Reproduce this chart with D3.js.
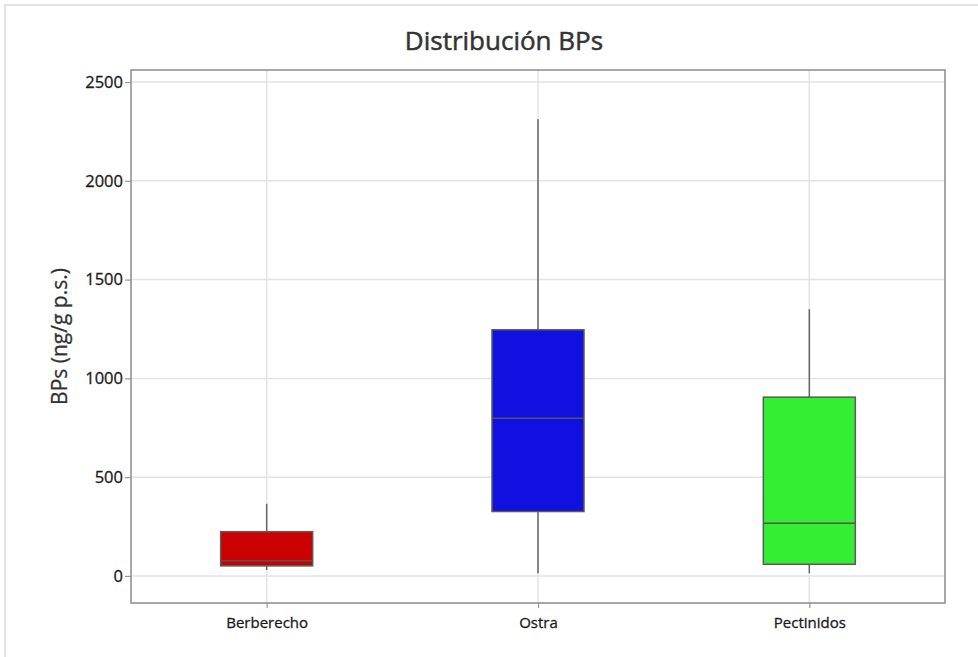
<!DOCTYPE html>
<html>
<head>
<meta charset="utf-8">
<script src="https://cdn.jsdelivr.net/npm/d3@7"></script>
<style>
  html, body { margin: 0; padding: 0; background: #fff; }
  svg { display: block; font-family: "Open Sans", "Noto Sans", sans-serif; }
</style>
</head>
<body>
<svg id="chart" width="978" height="657"></svg>
<script>
// Box-plot summaries of BPs concentration per shellfish group
const categories = ["Berberecho", "Ostra", "Pectinidos"];
const whiskerLow = [30, 14, 14];
const q1 = [51, 326, 59];
const median = [77, 798, 267];
const q3 = [224, 1246, 905];
const whiskerHigh = [365, 2312, 1350];
const fills = ["#CC0000", "#1010E0", "#33EE33"];
const yTicks = [0, 500, 1000, 1500, 2000, 2500];

const svg = d3.select("#chart");
const W = 978, H = 657;
const m = { left: 131, right: 33, top: 70, bottom: 54 };
const pw = W - m.left - m.right, ph = H - m.top - m.bottom;
const FONT = '"Open Sans", "Noto Sans", sans-serif';

// outer frame
svg.append("rect").attr("x", 5).attr("y", 5).attr("width", W + 10).attr("height", H + 10)
  .attr("fill", "none").attr("stroke", "#d9d9d9").attr("stroke-width", 1.5);

const x = d3.scalePoint().domain(categories).range([0, pw]).padding(0.5);
const y = d3.scaleLinear().domain([-137, 2561]).range([ph, 0]);

const g = svg.append("g").attr("transform", `translate(${m.left},${m.top})`);

// gridlines
g.append("g").selectAll("line").data(yTicks).join("line")
  .attr("x1", 0).attr("x2", pw).attr("y1", d => y(d)).attr("y2", d => y(d))
  .attr("stroke", "#e3e3e3").attr("stroke-width", 1.5);
g.append("g").selectAll("line").data(categories).join("line")
  .attr("y1", 0).attr("y2", ph).attr("x1", d => x(d)).attr("x2", d => x(d))
  .attr("stroke", "#e3e3e3").attr("stroke-width", 1.5);

// axes
const yAxis = g.append("g").call(d3.axisLeft(y).tickValues(yTicks).tickFormat(d3.format("d"))
  .tickSize(6).tickPadding(2));
const xAxis = g.append("g").attr("transform", `translate(0,${ph})`)
  .call(d3.axisBottom(x).tickSize(5).tickPadding(9));
[yAxis, xAxis].forEach(a => {
  a.attr("font-family", FONT);
  a.select(".domain").remove();
  a.selectAll(".tick line").attr("stroke", "#999").attr("stroke-width", 1.2);
  a.selectAll(".tick text").attr("fill", "#1a1a1a")
    .attr("stroke", "#1a1a1a").attr("stroke-width", 0.3);
});
yAxis.selectAll(".tick text").style("font-size", "16.5px");
xAxis.selectAll(".tick text").style("font-size", "15px");

// boxes
const bw = 92;
const data = categories.map((c, i) => ({
  c, lo: whiskerLow[i], q1: q1[i], med: median[i], q3: q3[i], hi: whiskerHigh[i], fill: fills[i]
}));
const box = g.append("g").selectAll("g").data(data).join("g")
  .attr("transform", d => `translate(${x(d.c)},0)`);
box.append("line").attr("x1", 0).attr("x2", 0)
  .attr("y1", d => y(d.hi)).attr("y2", d => y(d.q3))
  .attr("stroke", "#666").attr("stroke-width", 1.5);
box.append("line").attr("x1", 0).attr("x2", 0)
  .attr("y1", d => y(d.q1)).attr("y2", d => y(d.lo))
  .attr("stroke", "#666").attr("stroke-width", 1.5);
box.append("rect").attr("x", -bw / 2).attr("width", bw)
  .attr("y", d => y(d.q3)).attr("height", d => y(d.q1) - y(d.q3))
  .attr("fill", d => d.fill).attr("stroke", "#5a5a5a").attr("stroke-width", 1.5);
box.append("line").attr("x1", -bw / 2).attr("x2", bw / 2)
  .attr("y1", d => y(d.med)).attr("y2", d => y(d.med))
  .attr("stroke", "#555").attr("stroke-width", 1.5);

// plot frame
g.append("rect").attr("width", pw).attr("height", ph)
  .attr("fill", "none").attr("stroke", "#8a8a8a").attr("stroke-width", 1.5);

// titles
svg.append("text").attr("x", 504).attr("y", 50)
  .attr("text-anchor", "middle").attr("fill", "#333")
  .attr("stroke", "#333").attr("stroke-width", 0.5)
  .style("font-size", "26px").text("Distribución BPs");
svg.append("text")
  .attr("transform", `translate(67,${m.top + ph / 2}) rotate(-90)`)
  .attr("text-anchor", "middle").attr("fill", "#333")
  .attr("stroke", "#333").attr("stroke-width", 0.3)
  .style("font-size", "21px").text("BPs (ng/g p.s.)");
</script>
</body>
</html>
